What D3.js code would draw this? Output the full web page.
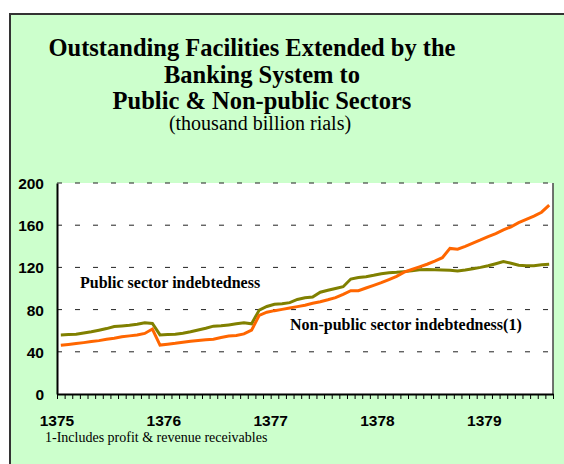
<!DOCTYPE html>
<html>
<head>
  <title>Outstanding Facilities Extended by the Banking System</title>
  <style>
    body { margin: 0; background: #fff; }
    svg { display: block; }
    .title { font-family: "Liberation Serif", "Times New Roman", serif; font-weight: bold; fill: #000; }
    .axis-label { font-family: "Liberation Sans", Arial, sans-serif; font-weight: bold; font-size: 15.5px; fill: #000; }
    .series-label { font-family: "Liberation Serif", "Times New Roman", serif; font-weight: bold; font-size: 16px; }
  </style>
</head>
<body>
  <svg id="chart" width="564" height="464"></svg>
  <script src="https://d3js.org/d3.v7.min.js"></script>
  <script>
    // values, one point per period
    const publicSector = [
      46.2, 47, 47.8, 48.7, 49.7, 50.6, 51.9, 52.9, 54.2, 55.1, 56, 57.4, 61.6,
      46.4, 47.2, 48, 49, 50.1, 50.8, 51.5, 52, 53.6, 55, 55.5, 57, 60.5,
      74.5, 77.5, 79, 80.2, 81.5, 82.8, 84.2, 86, 87.5, 89.3, 91.3, 94.5, 97.9, 97.9,
      100.5, 103, 105.5, 108.5, 111.5, 115.5, 118, 120.5, 123, 126, 129.2, 138, 137.3,
      140, 143, 146, 149.2, 152, 155.5, 158.5, 162.4, 165.5, 168.6, 172.3, 179
    ];
    const nonPublicSector = [
      56, 56.3, 56.6, 57.8, 59, 60.5, 62, 63.9, 64.5, 65.1, 66.2, 67.5, 66.8,
      56, 56.3, 56.6, 57.5, 59, 60.7, 62.3, 64.3, 64.6, 65.5, 66.5, 67.5, 66.5,
      79.5, 83, 85, 85.6, 86.6, 89.6, 91.3, 91.9, 96.5, 98.3, 100, 101.7, 109, 110.5,
      111.2, 112.5, 114, 115, 115.3, 116, 116.8, 117.8, 118, 117.8, 117.6, 117.2, 116.7,
      117.5, 118.7, 120, 121.5, 123.5, 125.5, 124, 122.1, 121.6, 121.6, 122.5, 123
    ];
    const yearLabels = ["1375", "1376", "1377", "1378", "1379"];
    const yearIndex = [0, 14, 28, 42, 56];
    const yTicks = [0, 40, 80, 120, 160, 200];
    const titleLines = [
      "Outstanding Facilities Extended by the",
      "Banking System to",
      "Public & Non-public Sectors"
    ];
    const subtitle = "(thousand billion rials)";
    const footnote = "1-Includes profit & revenue receivables";

    const svg = d3.select('#chart');
    const n = publicSector.length;

    // outer green frame
    svg.append('rect')
      .attr('x', 10).attr('y', 14)
      .attr('width', 570).attr('height', 470)
      .attr('fill', '#ccffcc')
      .attr('stroke', '#333').attr('stroke-width', 2);

    // titles
    const titleY = [56, 83, 109];
    titleLines.forEach((t, i) => {
      svg.append('text').attr('class', 'title')
        .attr('x', i === 0 ? 252 : 262).attr('y', titleY[i])
        .attr('text-anchor', 'middle')
        .style('font-size', '24.5px')
        .text(t);
    });
    svg.append('text')
      .attr('x', 260).attr('y', 130)
      .attr('text-anchor', 'middle')
      .style('font-family', '"Liberation Serif", serif')
      .style('font-size', '20px')
      .text(subtitle);

    const plotL = 57, plotR = 553, plotT = 183, plotB = 394;
    const x = d3.scaleLinear().domain([0, n]).range([plotL, plotR]);
    const y = d3.scaleLinear().domain([0, 200]).range([plotB, plotT]);

    // plot area
    svg.append('rect')
      .attr('x', plotL).attr('y', plotT)
      .attr('width', plotR - plotL).attr('height', plotB - plotT)
      .attr('fill', '#fff');

    // gridlines
    svg.append('g')
      .selectAll('line')
      .data(yTicks.filter(d => d > 0))
      .enter().append('line')
      .attr('x1', plotL).attr('x2', plotR)
      .attr('y1', d => y(d)).attr('y2', d => y(d))
      .attr('stroke', '#222').attr('stroke-width', 1)
      .attr('stroke-dasharray', '5,13');

    // right border of plot
    svg.append('line')
      .attr('x1', plotR).attr('x2', plotR)
      .attr('y1', plotT).attr('y2', plotB)
      .attr('stroke', '#444').attr('stroke-width', 1.5);

    // y axis
    const yAxis = svg.append('g')
      .attr('transform', `translate(${plotL},0)`)
      .call(d3.axisLeft(y).tickValues(yTicks).tickSize(0).tickPadding(13));
    yAxis.select('.domain').attr('stroke', '#000').attr('stroke-width', 2);
    yAxis.selectAll('text').attr('class', 'axis-label').attr('dy', '0.35em');

    // x axis ticks
    const xAxis = svg.append('g')
      .attr('transform', `translate(0,${plotB})`)
      .call(d3.axisBottom(x).tickValues(d3.range(n + 1)).tickFormat('').tickSizeOuter(0).tickSizeInner(5));
    xAxis.select('.domain').attr('stroke', '#000').attr('stroke-width', 2);
    xAxis.selectAll('.tick line').attr('stroke', '#000');

    svg.append('g')
      .selectAll('text')
      .data(yearLabels)
      .enter().append('text')
      .attr('class', 'axis-label')
      .attr('x', (d, i) => x(yearIndex[i]))
      .attr('y', 426)
      .attr('text-anchor', 'middle')
      .text(d => d);

    // lines
    const line = d3.line()
      .x((d, i) => x(i + 0.5))
      .y(d => y(d));

    svg.append('path').datum(nonPublicSector)
      .attr('d', line)
      .attr('fill', 'none')
      .attr('stroke', '#808000')
      .attr('stroke-width', 3);

    svg.append('path').datum(publicSector)
      .attr('d', line)
      .attr('fill', 'none')
      .attr('stroke', '#ff6600')
      .attr('stroke-width', 3);

    // series labels
    svg.append('text').attr('class', 'series-label')
      .attr('x', 80).attr('y', 288)
      .text('Public sector indebtedness');
    svg.append('text').attr('class', 'series-label')
      .attr('x', 290).attr('y', 330)
      .text('Non-public sector indebtedness(1)');

    // footnote
    svg.append('text')
      .attr('x', 45).attr('y', 442)
      .style('font-family', '"Liberation Serif", serif')
      .style('font-size', '14px')
      .text(footnote);
  </script>
</body>
</html>
